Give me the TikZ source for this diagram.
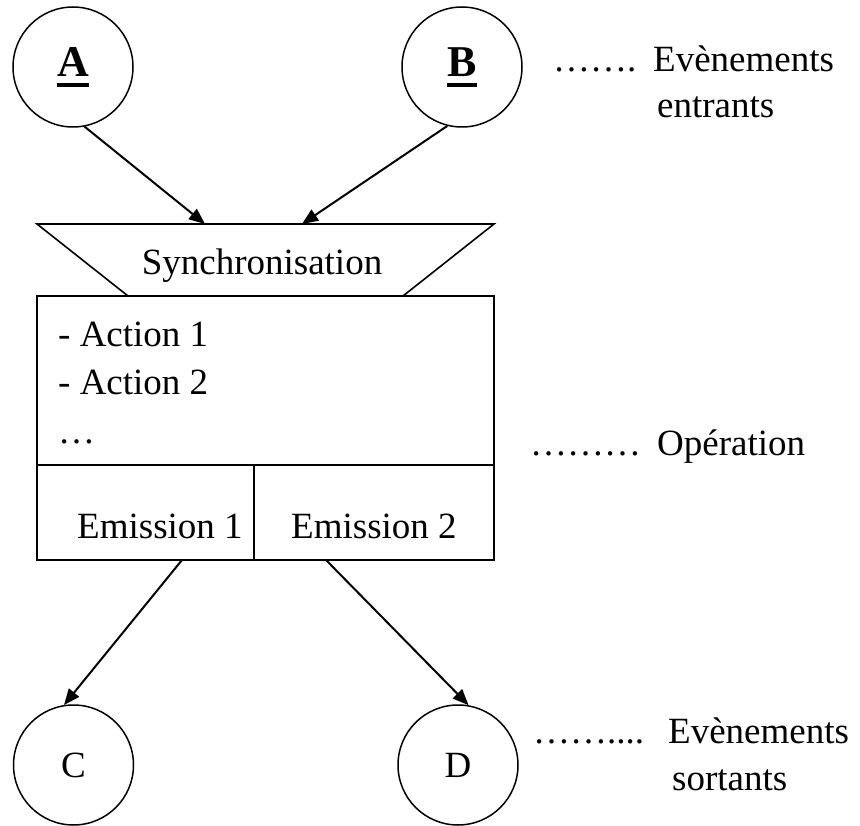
\documentclass[tikz,border=0pt]{standalone}
\usepackage{fontspec}
\setmainfont{Liberation Serif}
\usetikzlibrary{arrows.meta}
\newcommand\myul[1]{\leavevmode\setbox0=\hbox{#1}\rlap{\copy0}\raisebox{-10.5pt}{\rule{\wd0}{3.5pt}}}
\tikzset{
  evt/.style={circle,draw,line width=1.5pt,minimum size=120pt,inner sep=0pt,font=\fontsize{37}{44}\selectfont},
  big/.style={font=\fontsize{44}{50}\selectfont\bfseries},
  txt/.style={inner sep=0pt,font=\fontsize{37}{44}\selectfont},
  box/.style={line width=1.6pt},
  arr/.style={line width=2pt,-{Triangle[length=16pt,width=13pt]}}
}
\begin{document}
\begin{tikzpicture}[x=1pt,y=-1pt]
\useasboundingbox (0,0) rectangle (860,826);
% event circles
\node[evt,big] (A) at (73,67) {\myul{A}};
\node[evt,big] (B) at (462,67) {\myul{B}};
\node[evt] (C) at (73.5,765) {C};
\node[evt] (D) at (458,765) {D};
% synchronisation trapezoid
\coordinate (t1) at (37,224);
\coordinate (t2) at (494,224);
\coordinate (t3) at (403,296);
\coordinate (t4) at (128,296);
\draw[box,line join=miter] (t1) -- (t2) -- (t3) -- (t4) -- cycle;
\node[txt,anchor=base] (sync) at (262,275) {Synchronisation};
% operation box
\node[draw,box,minimum width=457pt,minimum height=264pt,inner sep=0pt] (op) at (265.5,428) {};
\coordinate (h1) at (37,465);
\coordinate (h2) at (494,465);
\coordinate (v1) at (254,465);
\coordinate (v2) at (254,560);
\draw[box] (h1) -- (h2);
\draw[box] (v1) -- (v2);
\node[txt,anchor=base west] (a1) at (58,347) {- Action 1};
\node[txt,anchor=base west] (a2) at (58,395) {- Action 2};
\node[txt,anchor=base west] (a3) at (58,443) {…};
\node[txt,anchor=base west] (em1) at (77,538) {Emission 1};
\node[txt,anchor=base west] (em2) at (291,538) {Emission 2};
% connectors
\coordinate (inA) at (205,224);
\coordinate (inB) at (302,224);
\coordinate (outC) at (182,560);
\coordinate (outD) at (326,560);
\draw[arr] (A.281) -- (inA);
\draw[arr] (B.256) -- (inB);
\draw[arr] (outC) -- (C.99);
\draw[arr] (outD) -- (D.80);
% legend
\node[txt,anchor=base west] (d1) at (553,72) {…….};
\node[txt,anchor=base west] (l1) at (653,72) {Evènements};
\node[txt,anchor=base west] (l1b) at (657,118) {entrants};
\node[txt,anchor=base west] (d2) at (530,455) {………};
\node[txt,anchor=base west] (l2) at (657,455) {Opération};
\node[txt,anchor=base west] (d3) at (533,743) {……....};
\node[txt,anchor=base west] (l3) at (668,743) {Evènements};
\node[txt,anchor=base west] (l3b) at (672,790) {sortants};
\end{tikzpicture}
\end{document}
